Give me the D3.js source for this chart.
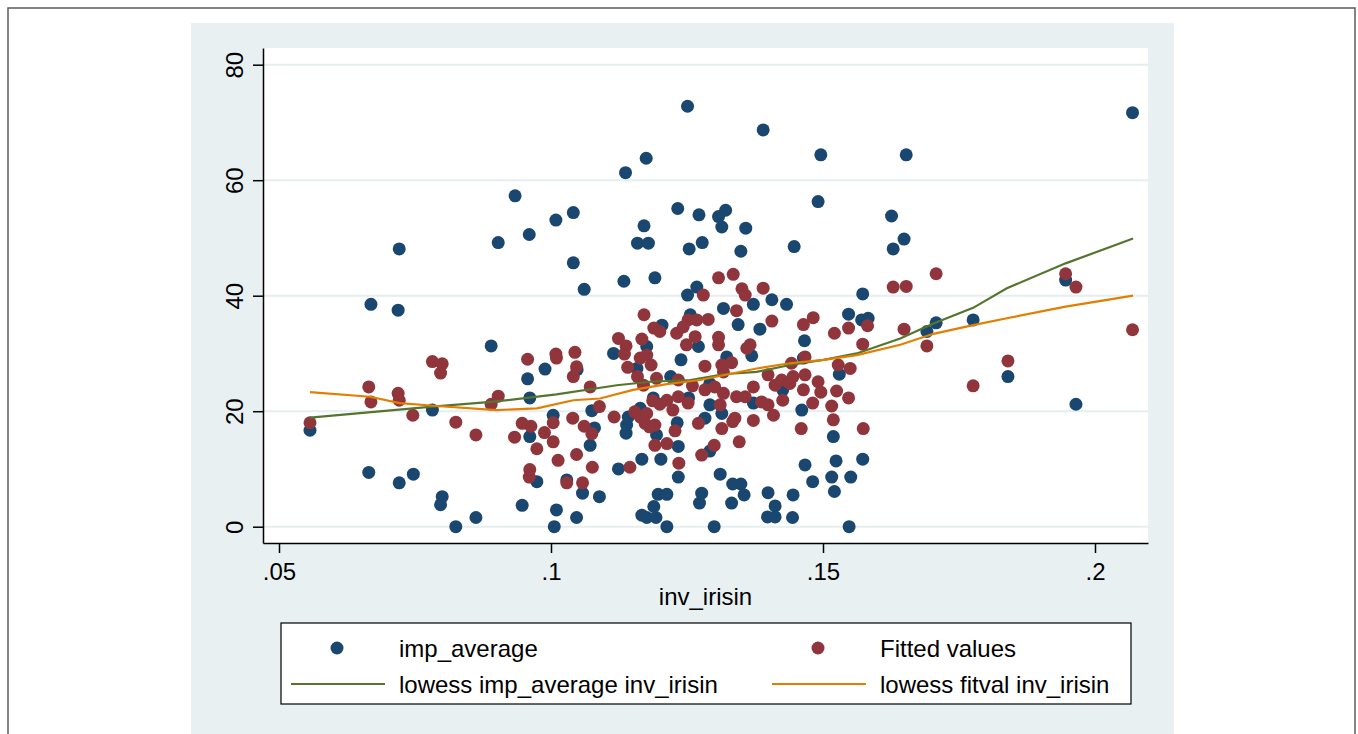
<!DOCTYPE html>
<html>
<head>
<meta charset="utf-8">
<script src="https://cdn.jsdelivr.net/npm/d3@7"></script>
<style>
  html, body { margin: 0; padding: 0; background: #ffffff; }
  svg { display: block; font-family: "Liberation Sans", Arial, sans-serif; }
</style>
</head>
<body>
<svg id="chart" width="1358" height="734"></svg>
<script>
// ---------------- DATA ----------------
const xTicks = [0.05, 0.1, 0.15, 0.2];
const xTickLabels = [".05", ".1", ".15", ".2"];
const yTicks = [0, 20, 40, 60, 80];
const yTickLabels = ["0", "20", "40", "60", "80"];
const xTitle = "inv_irisin";
const legendLabels = ["imp_average", "Fitted values", "lowess imp_average inv_irisin", "lowess fitval inv_irisin"];

// imp_average : [inv_irisin, value]
const impAverage = [
  [0.0557,16.7],[0.0665,9.4],[0.0669,38.5],[0.0719,37.5],[0.0721,48.1],[0.0747,9.1],[0.0721,7.6],
  [0.0782,20.2],[0.0800,5.2],[0.0797,3.8],[0.0825,0.0],[0.0862,1.6],[0.0890,31.3],[0.0903,49.2],
  [0.0934,57.3],[0.0960,50.6],[0.1009,53.1],[0.1041,54.4],[0.1041,45.7],[0.1061,41.1],[0.0989,27.3],
  [0.0957,25.6],[0.0961,22.3],[0.1004,19.3],[0.0961,15.6],[0.0974,7.8],[0.1029,8.1],[0.0947,3.7],
  [0.1010,2.9],[0.1047,1.6],[0.1006,0.0],[0.1058,5.8],[0.1072,14.1],[0.1075,20.1],[0.1048,27.2],
  [0.1080,17.1],[0.1134,42.5],[0.1191,43.1],[0.1159,49.1],[0.1179,49.1],[0.1171,52.1],[0.1254,48.1],
  [0.1278,49.2],[0.1251,40.1],[0.1268,41.5],[0.1256,36.7],[0.1204,34.9],[0.1115,30.0],[0.1176,31.2],
  [0.1239,28.9],[0.1158,27.4],[0.1220,26.0],[0.1188,22.3],[0.1253,22.3],[0.1142,19.0],[0.1139,17.6],
  [0.1138,16.2],[0.1164,20.5],[0.1194,15.9],[0.1232,18.0],[0.1234,13.9],[0.1167,11.7],[0.1202,11.7],
  [0.1124,10.0],[0.1234,8.6],[0.1089,5.2],[0.1197,5.6],[0.1213,5.6],[0.1189,3.5],[0.1167,2.0],
  [0.1176,1.6],[0.1193,1.6],[0.1213,0.0],[0.1273,4.1],[0.1349,47.7],[0.1447,48.5],[0.1308,53.7],
  [0.1321,54.8],[0.1314,51.9],[0.1358,51.7],[0.1251,72.8],[0.1390,68.7],[0.1496,64.4],[0.1653,64.4],
  [0.1137,61.3],[0.1175,63.8],[0.1491,56.3],[0.1626,53.8],[0.1649,49.8],[0.1629,48.1],[0.1233,55.1],
  [0.1272,54.0],[0.1406,39.3],[0.1433,38.5],[0.1372,38.5],[0.1317,37.8],[0.1573,40.3],[0.1547,36.8],
  [0.1571,35.8],[0.1583,36.1],[0.1344,35.0],[0.1384,34.2],[0.1466,32.2],[0.1369,29.6],[0.1323,29.4],
  [0.1271,31.2],[0.1464,29.2],[0.1530,26.4],[0.1292,24.8],[0.1461,20.2],[0.1519,15.6],[0.1467,10.7],
  [0.1524,11.4],[0.1573,11.7],[0.1516,8.6],[0.1551,8.6],[0.1481,7.8],[0.1521,6.1],[0.1311,9.1],
  [0.1334,7.4],[0.1349,7.4],[0.1355,5.5],[0.1277,5.8],[0.1332,4.1],[0.1399,5.9],[0.1445,5.5],
  [0.1412,3.6],[0.1398,1.7],[0.1412,1.7],[0.1444,1.6],[0.1300,0.0],[0.1548,0.0],[0.1292,13.1],
  [0.1283,18.8],[0.1292,21.1],[0.1314,19.6],[0.1372,21.4],[0.1426,23.7],[0.1708,35.3],[0.1691,33.8],
  [0.1776,35.8],[0.2069,71.7],[0.1946,42.7],[0.1840,26.0],[0.1965,21.2]
];

// Fitted values : [inv_irisin, value]
const fittedValues = [
  [0.0557,18.0],[0.0665,24.2],[0.0669,21.6],[0.0719,23.1],[0.0721,21.9],[0.0746,19.3],[0.0782,28.6],
  [0.0800,28.2],[0.0797,26.6],[0.0825,18.1],[0.0862,15.9],[0.0890,21.2],[0.0903,22.6],[0.0933,15.5],
  [0.0947,17.9],[0.0957,29.0],[0.0963,17.4],[0.0961,9.9],[0.0960,8.6],[0.0974,13.5],[0.0988,16.3],
  [0.1004,14.7],[0.1004,18.0],[0.1009,29.9],[0.1010,29.2],[0.1013,11.5],[0.1029,7.6],[0.1040,18.8],
  [0.1041,26.0],[0.1044,30.2],[0.1047,27.7],[0.1047,12.5],[0.1058,7.6],[0.1061,17.4],[0.1072,24.2],
  [0.1075,16.1],[0.1076,10.3],[0.1089,20.8],[0.1116,19.0],[0.1145,10.3],[0.1154,19.9],[0.1164,19.0],
  [0.1176,19.6],[0.1173,17.9],[0.1181,17.3],[0.1191,17.6],[0.1187,21.8],[0.1200,21.2],[0.1213,21.9],
  [0.1224,20.2],[0.1234,22.5],[0.1252,21.4],[0.1191,14.1],[0.1213,14.4],[0.1228,16.6],[0.1235,11.0],
  [0.1277,12.4],[0.1171,36.7],[0.1189,34.4],[0.1200,33.8],[0.1124,32.6],[0.1167,32.5],[0.1138,31.3],
  [0.1135,29.9],[0.1164,29.2],[0.1176,29.7],[0.1184,28.0],[0.1141,27.6],[0.1159,26.0],[0.1170,24.5],
  [0.1194,25.7],[0.1231,33.5],[0.1243,34.6],[0.1252,35.8],[0.1268,35.8],[0.1249,31.5],[0.1265,32.9],
  [0.1234,25.4],[0.1260,24.4],[0.1308,43.1],[0.1335,43.7],[0.1351,41.2],[0.1357,40.1],[0.1390,41.3],
  [0.1280,40.1],[0.1341,37.4],[0.1406,35.6],[0.1464,35.0],[0.1482,36.2],[0.1521,33.5],[0.1547,34.4],
  [0.1582,34.8],[0.1573,31.6],[0.1308,32.8],[0.1308,31.5],[0.1289,35.9],[0.1366,31.5],[0.1360,30.9],
  [0.1467,29.4],[0.1283,27.8],[0.1314,28.0],[0.1332,28.4],[0.1317,26.8],[0.1442,28.3],[0.1528,28.0],
  [0.1550,27.4],[0.1399,26.3],[0.1424,25.4],[0.1445,26.0],[0.1439,24.8],[0.1467,26.3],[0.1491,25.1],
  [0.1372,24.2],[0.1341,22.5],[0.1357,22.5],[0.1412,24.5],[0.1464,23.7],[0.1496,23.3],[0.1525,23.5],
  [0.1547,22.3],[0.1283,23.7],[0.1301,24.2],[0.1317,23.1],[0.1271,17.9],[0.1314,17.0],[0.1334,18.2],
  [0.1338,18.8],[0.1372,18.4],[0.1409,19.3],[0.1346,14.7],[0.1300,14.1],[0.1460,17.0],[0.1519,18.5],
  [0.1516,20.9],[0.1574,17.0],[0.1481,21.4],[0.1426,21.9],[0.1387,21.6],[0.1399,21.1],[0.1311,21.1],
  [0.1629,41.5],[0.1653,41.6],[0.1708,43.8],[0.1649,34.2],[0.1691,31.3],[0.1776,24.4],[0.1946,43.8],
  [0.1965,41.5],[0.2069,34.1],[0.1840,28.7]
];

// lowess imp_average inv_irisin
const lowessImp = [
  [0.0557,18.9],[0.0782,20.8],[0.0890,21.6],[0.1010,22.9],[0.1121,24.5],[0.1182,25.1],[0.1256,25.4],
  [0.1317,26.4],[0.1378,26.8],[0.1439,28.0],[0.1501,28.9],[0.1562,30.0],[0.1642,32.6],[0.1703,35.2],
  [0.1776,37.9],[0.1838,41.3],[0.1946,45.6],[0.2070,49.9]
];

// lowess fitval inv_irisin
const lowessFit = [
  [0.0557,23.3],[0.0667,22.5],[0.0722,21.4],[0.0790,20.9],[0.0900,20.2],[0.0974,20.5],[0.1041,21.9],
  [0.1090,22.2],[0.1151,23.7],[0.1213,24.7],[0.1274,25.4],[0.1378,27.4],[0.1439,28.3],[0.1501,28.9],
  [0.1562,29.7],[0.1642,31.5],[0.1703,33.4],[0.1776,34.9],[0.1838,36.1],[0.1946,38.1],[0.2070,40.0]
];

// ---------------- STYLE ----------------
const C = {
  navy: "#1a476f",
  maroon: "#90353b",
  green: "#55752f",
  orange: "#e37e00",
  panel: "#e9f0f2",
  grid: "#e6eef0"
};
const FONT = "'Liberation Sans', Arial, sans-serif";
const FS = 24;
const R = 6.5;

const svg = d3.select("#chart");

// outer frame
svg.append("rect").attr("x", 8).attr("y", 8).attr("width", 1347).attr("height", 800)
  .attr("fill", "#ffffff").attr("stroke", "#5c5c5c").attr("stroke-width", 1.5);

// graph region background
svg.append("rect").attr("x", 191).attr("y", 23).attr("width", 983).attr("height", 760)
  .attr("fill", C.panel);

// plot region
const plot = { left: 263, right: 1148, top: 48, bottom: 543 };
svg.append("rect").attr("x", plot.left).attr("y", plot.top)
  .attr("width", plot.right - plot.left).attr("height", plot.bottom - plot.top)
  .attr("fill", "#ffffff");

const x = d3.scaleLinear().domain([0.047059, 0.209743]).range([plot.left, plot.right]);
const y = d3.scaleLinear().domain([-2.82, 82.89]).range([plot.bottom, plot.top]);

// gridlines
svg.append("g").selectAll("line").data(yTicks).join("line")
  .attr("x1", plot.left).attr("x2", plot.right)
  .attr("y1", d => y(d)).attr("y2", d => y(d))
  .attr("stroke", C.grid).attr("stroke-width", 2);

// y axis
const yAxis = d3.axisLeft(y).tickValues(yTicks).tickSize(10).tickSizeOuter(0)
  .tickFormat((d, i) => yTickLabels[i]);
const gy = svg.append("g").attr("transform", `translate(${plot.left},0)`).call(yAxis);
gy.select(".domain").attr("stroke", "#000").attr("stroke-width", 1.5);
gy.selectAll(".tick line").attr("stroke", "#000").attr("stroke-width", 1.5);
gy.selectAll(".tick text")
  .attr("x", null).attr("dy", null)
  .attr("text-anchor", "middle")
  .attr("transform", "translate(-20,0) rotate(-90)")
  .attr("font-family", FONT).attr("font-size", FS).attr("fill", "#000");

// x axis
const xAxis = d3.axisBottom(x).tickValues(xTicks).tickSize(10).tickSizeOuter(0)
  .tickFormat((d, i) => xTickLabels[i]);
const gx = svg.append("g").attr("transform", `translate(0,${plot.bottom})`).call(xAxis);
gx.select(".domain").attr("stroke", "#000").attr("stroke-width", 1.5);
gx.selectAll(".tick line").attr("stroke", "#000").attr("stroke-width", 1.5);
gx.selectAll(".tick text")
  .attr("y", 37).attr("dy", null)
  .attr("font-family", FONT).attr("font-size", FS).attr("fill", "#000");

// x axis title
svg.append("text").attr("x", (plot.left + plot.right) / 2).attr("y", 605)
  .attr("text-anchor", "middle").attr("font-family", FONT).attr("font-size", FS)
  .attr("fill", "#000").text(xTitle);

// scatter points
svg.append("g").selectAll("circle").data(impAverage).join("circle")
  .attr("cx", d => x(d[0])).attr("cy", d => y(d[1])).attr("r", R)
  .attr("fill", C.navy);
svg.append("g").selectAll("circle").data(fittedValues).join("circle")
  .attr("cx", d => x(d[0])).attr("cy", d => y(d[1])).attr("r", R)
  .attr("fill", C.maroon);

// lowess lines
const line = d3.line().x(d => x(d[0])).y(d => y(d[1]));
svg.append("path").datum(lowessImp).attr("d", line)
  .attr("fill", "none").attr("stroke", C.green).attr("stroke-width", 2.2);
svg.append("path").datum(lowessFit).attr("d", line)
  .attr("fill", "none").attr("stroke", C.orange).attr("stroke-width", 2.2);

// legend
const lg = svg.append("g");
lg.append("rect").attr("x", 281).attr("y", 623).attr("width", 850).attr("height", 81)
  .attr("fill", "#ffffff").attr("stroke", "#000").attr("stroke-width", 1.2);
const legendItems = [
  { type: "dot", color: C.navy, mx: 337, tx: 399, cy: 648, label: legendLabels[0] },
  { type: "dot", color: C.maroon, mx: 818, tx: 880, cy: 648, label: legendLabels[1] },
  { type: "line", color: C.green, mx: 338, tx: 399, cy: 684, label: legendLabels[2] },
  { type: "line", color: C.orange, mx: 819, tx: 880, cy: 684, label: legendLabels[3] }
];
legendItems.forEach(it => {
  if (it.type === "dot") {
    lg.append("circle").attr("cx", it.mx).attr("cy", it.cy).attr("r", R).attr("fill", it.color);
  } else {
    lg.append("line").attr("x1", it.mx - 47).attr("x2", it.mx + 47)
      .attr("y1", it.cy).attr("y2", it.cy)
      .attr("stroke", it.color).attr("stroke-width", 2.2);
  }
  lg.append("text").attr("x", it.tx).attr("y", it.cy + 8.5)
    .attr("font-family", FONT).attr("font-size", FS).attr("fill", "#000").text(it.label);
});
</script>
</body>
</html>
